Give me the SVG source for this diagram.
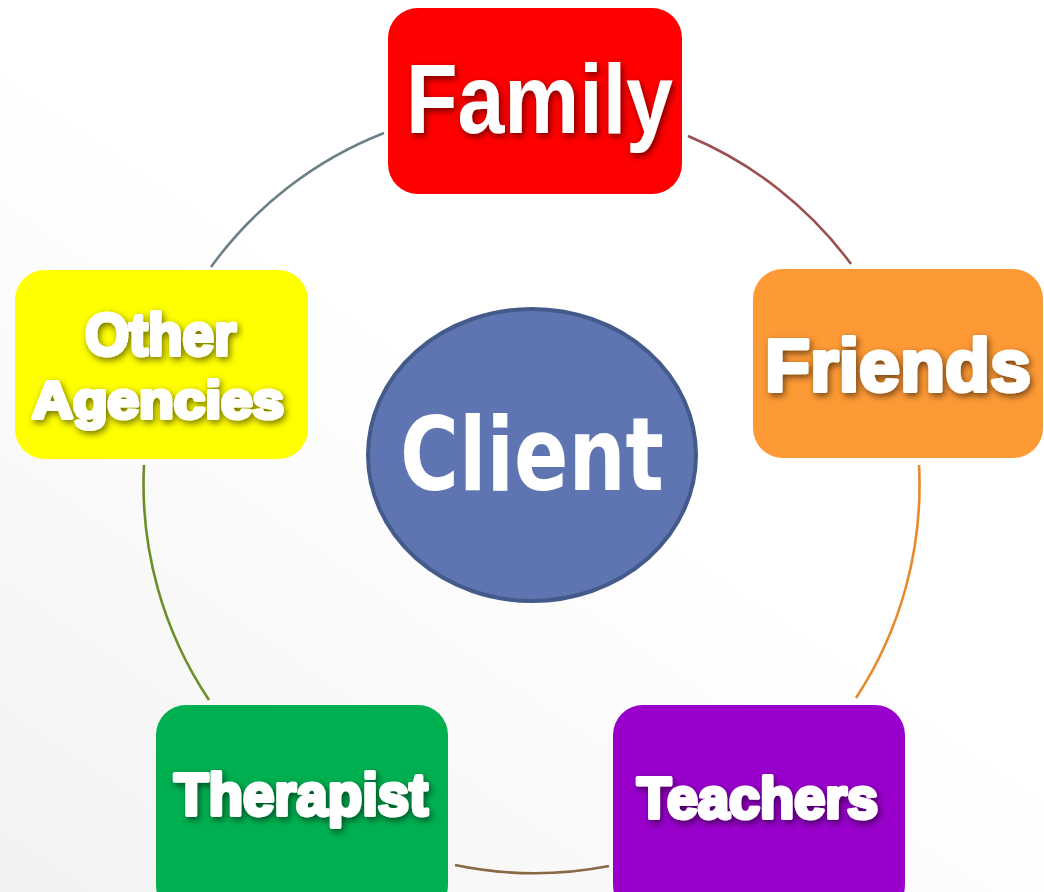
<svg xmlns="http://www.w3.org/2000/svg" width="1044" height="892" viewBox="0 0 1044 892">
  <defs>
    <linearGradient id="bg" x1="0" y1="1" x2="0.45" y2="0.45">
      <stop offset="0" stop-color="#f2f2f2"/>
      <stop offset="1" stop-color="#ffffff"/>
    </linearGradient>
    <filter id="shadow" x="-5%" y="-20%" width="110%" height="140%">
      <feGaussianBlur in="SourceAlpha" stdDeviation="3.5" result="b"/>
      <feOffset in="b" dx="2" dy="3" result="o"/>
      <feFlood flood-color="#000" flood-opacity="0.55"/>
      <feComposite in2="o" operator="in" result="s"/>
      <feMerge><feMergeNode in="s"/><feMergeNode in="SourceGraphic"/></feMerge>
    </filter>
    <style>
      .box { stroke: none; }
      .conn { fill: none; stroke-width: 2.6; }
      .lbl { font-family: "Liberation Sans", Arial, sans-serif; font-weight: bold; fill: #ffffff; stroke: #ffffff; stroke-width: 4; stroke-linejoin: round; filter: url(#shadow); }
      .fam { font-family: "Liberation Sans", Arial, sans-serif; font-weight: bold; fill: #ffffff; filter: url(#shadow); }
      .client { font-family: "Comic Sans MS", "DejaVu Sans", sans-serif; font-weight: bold; fill: #ffffff; }
    </style>
  </defs>
  <rect x="0" y="0" width="1044" height="892" fill="url(#bg)"/>

  <g id="connectors">
    <path class="conn" stroke="#6e8087" d="M384,133 A388,388 0 0 0 211,267"/>
    <path class="conn" stroke="#9a504e" d="M688,136 A388,388 0 0 1 851,264"/>
    <path class="conn" stroke="#e8892b" d="M919,465 A388,388 0 0 1 856,698"/>
    <path class="conn" stroke="#8a6745" d="M609,866 A388,388 0 0 1 455,865"/>
    <path class="conn" stroke="#6b8e26" d="M209,700 A388,388 0 0 1 144,465"/>
  </g>

  <g id="family">
    <rect class="box" x="388" y="8" width="294" height="186" rx="30" fill="#ff0000"/>
    <text class="fam" x="406" y="133" font-size="98" textLength="267" lengthAdjust="spacingAndGlyphs">Family</text>
  </g>

  <g id="friends">
    <rect class="box" x="753" y="269" width="290" height="189" rx="30" fill="#fe9a35"/>
    <text class="lbl" x="765" y="391" font-size="75" textLength="266" lengthAdjust="spacingAndGlyphs">Friends</text>
  </g>

  <g id="teachers">
    <rect class="box" x="613" y="705" width="292" height="210" rx="30" fill="#9900cc"/>
    <text class="lbl" x="637" y="818" font-size="57" textLength="241" lengthAdjust="spacingAndGlyphs">Teachers</text>
  </g>

  <g id="therapist">
    <rect class="box" x="156" y="705" width="292" height="210" rx="30" fill="#00b050"/>
    <text class="lbl" x="174" y="815" font-size="60" textLength="254" lengthAdjust="spacingAndGlyphs">Therapist</text>
  </g>

  <g id="other-agencies">
    <rect class="box" x="15" y="270" width="293" height="189" rx="30" fill="#ffff00"/>
    <text class="lbl" x="85" y="355" font-size="60" textLength="151" lengthAdjust="spacingAndGlyphs">Other</text>
    <text class="lbl" x="32" y="418" font-size="52" textLength="252" lengthAdjust="spacingAndGlyphs">Agencies</text>
  </g>

  <g id="client">
    <ellipse cx="532" cy="455" rx="164" ry="146" fill="#5e75b1" stroke="#435a8a" stroke-width="4"/>
    <text class="client" x="400" y="490" font-size="102" textLength="264" lengthAdjust="spacingAndGlyphs">Client</text>
  </g>
</svg>
